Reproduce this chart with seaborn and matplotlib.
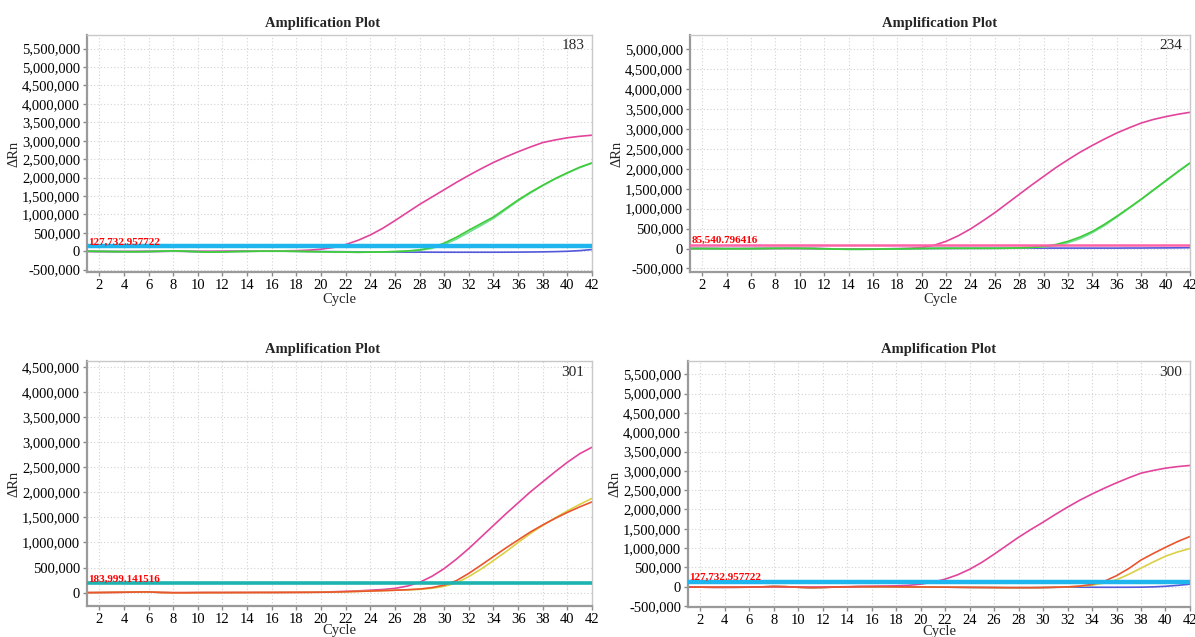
import pandas as pd
import matplotlib
matplotlib.use("Agg")
import matplotlib.pyplot as plt
import seaborn as sns
from matplotlib.ticker import FuncFormatter, MultipleLocator
from matplotlib.transforms import blended_transform_factory

cycles = list(range(1, 43))

# all curve values below are in thousands of delta Rn
# sample 183
s183_magenta = [-5, -8, -10, -10, -8, -5, -3, 0, -2, -5, -5, -3, 0, 2, 4, 6, 10, 15, 28, 55, 100,
                180, 295, 440, 620, 830, 1050, 1270, 1470, 1670, 1870, 2060, 2240, 2410, 2560, 2700,
                2830, 2950, 3020, 3080, 3120, 3150]
s183_green1 = [0, -5, -10, -15, -15, -10, 0, 10, 0, -15, -25, -20, -10, -5, 0, 0, 0, -5, -10, -15, -20,
               -25, -30, -25, -20, -10, 5, 35, 100, 220, 380, 570, 750, 930, 1160, 1390,
               1600, 1790, 1970, 2130, 2280, 2400]
s183_green2 = [0, -5, -10, -15, -15, -10, 0, 10, 0, -15, -25, -20, -10, -5, 0, 0, 0, -5, -10, -15, -20,
               -25, -30, -25, -20, -10, 0, 25, 75, 180, 330, 515, 700, 890, 1130, 1370,
               1580, 1780, 1960, 2120, 2270, 2390]
s183_blue = [-5, -8, -10, -10, -10, -8, -5, 0, -5, -10, -10, -8, -5, -3, 0, 0, 0, -2, -5, -10, -12,
             -15, -18, -20, -22, -24, -25, -26, -27, -28, -28, -28, -28, -28, -27, -25,
             -22, -18, -12, -2, 15, 45]

# sample 234
s234_magenta = [0, 0, -2, -3, -3, -2, 0, 2, 3, 2, 0, -5, -10, -12, -12, -10, -8, -5, 2, 25, 80,
                180, 320, 490, 690, 900, 1130, 1360, 1590, 1810, 2030, 2230, 2420, 2590, 2750, 2900,
                3030, 3150, 3240, 3310, 3370, 3420]
s234_green1 = [0, -2, -3, -5, -5, -3, 0, 3, 5, 3, 0, -8, -15, -20, -20, -18, -15, -10, -5, 0, 3,
               5, 5, 5, 5, 5, 8, 15, 28, 50, 100, 180, 290, 430, 610, 810,
               1020, 1240, 1470, 1700, 1930, 2150]
s234_green2 = [0, -2, -3, -5, -5, -3, 0, 3, 5, 3, 0, -8, -15, -20, -20, -18, -15, -10, -5, 0, 3,
               5, 5, 5, 5, 5, 8, 15, 25, 40, 75, 145, 250, 400, 580, 790,
               1010, 1230, 1460, 1690, 1920, 2140]
s234_blue = [0, 0, -2, -3, -3, -2, 0, 2, 3, 2, 0, -5, -10, -12, -12, -10, -8, -5, -3, 0, 2,
             3, 4, 5, 5, 6, 7, 8, 9, 10, 10, 10, 10, 10, 10, 10,
             12, 12, 14, 15, 17, 20]

# sample 301
s301_magenta = [0, 2, 5, 8, 12, 14, 5, 0, 0, 2, 3, 3, 3, 4, 5, 5, 6, 7, 8, 12, 18,
                25, 35, 48, 62, 85, 130, 205, 325, 480, 670, 880, 1110, 1340, 1570, 1790,
                2010, 2210, 2410, 2600, 2770, 2900]
s301_orange = [0, 2, 5, 8, 12, 14, 3, -2, -2, 0, 1, 1, 2, 2, 3, 3, 4, 5, 6, 8, 12,
               18, 25, 32, 40, 48, 58, 72, 100, 150, 240, 385, 550, 720, 890, 1050,
               1210, 1350, 1480, 1600, 1710, 1810]
s301_yellow = [0, 2, 5, 8, 12, 14, 3, -2, -2, 0, 1, 1, 2, 2, 3, 3, 4, 5, 6, 8, 12,
               18, 25, 32, 40, 48, 56, 65, 88, 125, 195, 320, 470, 640, 815, 1000,
               1180, 1340, 1490, 1630, 1760, 1880]

# sample 300
s300_magenta = [-10, -12, -15, -15, -12, -10, -5, 0, -5, -10, -10, -8, -5, 0, 5, 10, 15, 22, 35, 65, 115,
                195, 305, 450, 630, 840, 1060, 1280, 1480, 1670, 1870, 2060, 2240, 2400, 2550, 2690,
                2820, 2940, 3010, 3070, 3110, 3140]
s300_orange = [-10, -12, -15, -15, -15, -12, -5, 5, 0, -15, -25, -20, -10, -5, 0, 0, 0, -3, -6, -8, -10,
               -12, -15, -18, -20, -22, -25, -25, -25, -22, -15, -5, 15, 60, 140, 285,
               470, 690, 860, 1020, 1170, 1300]
s300_yellow = [-10, -12, -15, -15, -15, -12, -5, 5, 0, -15, -25, -20, -10, -5, 0, 0, 0, -3, -6, -8, -10,
               -12, -15, -18, -20, -22, -25, -25, -25, -22, -15, -5, 10, 40, 95, 180,
               320, 480, 640, 790, 900, 990]
s300_blue = [-10, -12, -15, -15, -15, -12, -5, 5, 0, -15, -25, -20, -10, -5, 0, 0, 0, -3, -6, -8, -10,
             -12, -15, -18, -20, -22, -25, -25, -25, -22, -15, -12, -12, -14, -15, -15,
             -14, -12, -5, 10, 35, 65]

thresholds = [127732.957722, 85540.796416, 183999.141516, 127732.957722]
threshold_labels = ["127,732.957722", "85,540.796416", "183,999.141516", "127,732.957722"]
sample_names = ["183", "234", "301", "300"]

MAGENTA = "#E2449C"
GREEN1 = "#3FCB3A"
GREEN2 = "#6EDF8E"
BLUE = "#5458DA"
ORANGE = "#E8552E"
YELLOW = "#DCCF45"


def build_frame(series):
    rows = []
    for name, vals in series:
        for c, v in zip(cycles, vals):
            rows.append((name, c, v * 1000.0))
    return pd.DataFrame(rows, columns=["well", "Cycle", "dRn"])


panels = [
    dict(rect=[0.0728, 0.573, 0.4226, 0.372], tx=0.467, ylim=(-565000, 5870000), xpad=1,
         series=[("blue", s183_blue), ("magenta", s183_magenta), ("green2", s183_green2), ("green1", s183_green1)],
         thr_color="#1FB6EF", thr_lw=3.2),
    dict(rect=[0.5774, 0.573, 0.4184, 0.372], tx=0.5, ylim=(-590000, 5360000), xpad=1,
         series=[("blue", s234_blue), ("magenta", s234_magenta), ("green2", s234_green2), ("green1", s234_green1)],
         thr_color="#FF62A6", thr_lw=1.8),
    dict(rect=[0.0728, 0.0487, 0.4226, 0.3846], tx=0.467, ylim=(-266000, 4620000), xpad=-1.5,
         series=[("magenta", s301_magenta), ("yellow", s301_yellow), ("orange", s301_orange)],
         thr_color="#1DB3B0", thr_lw=2.6),
    dict(rect=[0.5757, 0.0471, 0.4201, 0.3862], tx=0.5, ylim=(-526000, 5845000), xpad=-1.5,
         series=[("blue", s300_blue), ("yellow", s300_yellow), ("magenta", s300_magenta), ("orange", s300_orange)],
         thr_color="#1FB6EF", thr_lw=3.2),
]

palette = {"magenta": MAGENTA, "green1": GREEN1, "green2": GREEN2, "blue": BLUE,
           "orange": ORANGE, "yellow": YELLOW}

sns.set_theme(style="white")
plt.rcParams['font.family'] = ['Liberation Serif', 'DejaVu Serif']

fig = plt.figure(figsize=(11.95, 6.37), dpi=100)

for i, p in enumerate(panels):
    ax = fig.add_axes(p["rect"])
    df = build_frame(p["series"])
    sns.lineplot(data=df, x="Cycle", y="dRn", hue="well", palette=palette,
                 hue_order=[n for n, _ in p["series"]], linewidth=1.2, legend=False, ax=ax)

    ax.axhline(thresholds[i], color=p["thr_color"], lw=p["thr_lw"], zorder=5)
    trans = blended_transform_factory(ax.transAxes, ax.transData)
    ax.text(0.003, thresholds[i], threshold_labels[i], transform=trans, color="red",
            fontsize=8, fontweight="bold", ha="left", va="bottom", zorder=6)
    ax.text(0.985, 0.955, sample_names[i], transform=ax.transAxes, fontsize=11,
            ha="right", va="center")

    ax.set_xlim(1, 42)
    ax.set_ylim(*p["ylim"])
    ax.set_xticks(list(range(2, 43, 2)))
    ax.yaxis.set_major_locator(MultipleLocator(500000))
    ax.yaxis.set_major_formatter(FuncFormatter(lambda v, pos: f"{v:,.0f}"))

    ax.grid(True, color="#D3D3D3", linestyle=(0, (1, 2)), linewidth=0.8)
    ax.set_axisbelow(True)
    for side in ["top", "right"]:
        ax.spines[side].set_color("#C8C8C8")
        ax.spines[side].set_linewidth(1.0)
    for side in ["left", "bottom"]:
        ax.spines[side].set_color("#9A9A9A")
        ax.spines[side].set_linewidth(1.6)

    ax.tick_params(axis="both", which="major", direction="out", length=3, width=1,
                   color="#8A8A8A", labelsize=10.5, labelcolor="black", pad=2,
                   left=True, bottom=True)

    ax.set_title("Amplification Plot", fontsize=10.5, fontweight="bold", x=p["tx"], pad=6)
    ax.set_xlabel("Cycle", fontsize=10.5, labelpad=p["xpad"])
    ax.set_ylabel("ΔRn", fontsize=10.5, labelpad=1)

fig.savefig("out.png", dpi=100)
